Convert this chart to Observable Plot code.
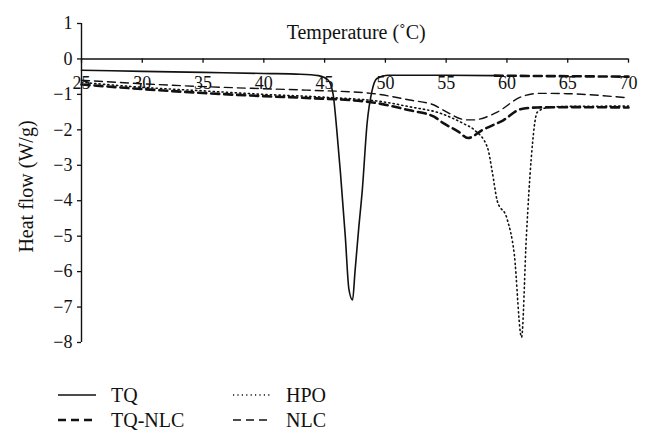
<!DOCTYPE html>
<html>
<head>
<meta charset="utf-8">
<script src="https://cdn.jsdelivr.net/npm/d3@7"></script>
<script src="https://cdn.jsdelivr.net/npm/@observablehq/plot@0.6"></script>
<style>
  body { margin: 0; background: #fff; font-family: "Liberation Serif", serif; }
  #legend { position: relative; height: 75px; font-size: 20px; color: #111; }
  .item { position: absolute; display: flex; align-items: center; height: 26px; }
  .item svg { margin-right: 15px; }
</style>
</head>
<body>
<div id="chart"></div>
<div id="legend"></div>
<script>
// ---- data ----
const xTicks = [25, 30, 35, 40, 45, 50, 55, 60, 65, 70];
const yTicks = [1, 0, -1, -2, -3, -4, -5, -6, -7, -8];

const tqT = [25, 30, 35, 40, 43, 44.5, 45.3, 45.7, 46.0, 46.3, 46.7, 47.0, 47.3, 47.5, 47.8, 48.1, 48.5, 48.9, 49.3, 50.2, 55, 59, 62, 66, 70];
const tqV = [-0.32, -0.35, -0.38, -0.41, -0.43, -0.47, -0.6, -1.0, -2.0, -3.2, -5.0, -6.5, -6.8, -6.0, -4.8, -3.7, -1.8, -0.9, -0.55, -0.46, -0.46, -0.47, -0.48, -0.49, -0.5];
const tqSolidEnd = 59;

const tqnlcT = [25, 30, 35, 40, 43.5, 48.8, 52, 54, 54.8, 56, 56.8, 58, 59.7, 61.1, 62.5, 65, 70];
const tqnlcV = [-0.72, -0.85, -0.96, -1.05, -1.1, -1.22, -1.45, -1.63, -1.82, -2.05, -2.23, -2.0, -1.73, -1.42, -1.37, -1.36, -1.37];

const nlcT = [25, 30, 35, 40, 43.5, 48.8, 52, 54, 54.8, 56.7, 57.2, 59.2, 61.1, 62.7, 65, 70];
const nlcV = [-0.6, -0.7, -0.78, -0.84, -0.88, -0.97, -1.16, -1.3, -1.45, -1.72, -1.72, -1.5, -1.08, -0.97, -0.98, -1.1];

const hpoT = [25, 30, 35, 40, 45, 50, 52, 54.5, 56.4, 57.3, 58.4, 58.8, 59.2, 60.0, 60.6, 61.2, 61.6, 62.0, 62.5, 63.5, 65, 70];
const hpoV = [-0.66, -0.8, -0.9, -1.0, -1.08, -1.22, -1.35, -1.53, -1.82, -2.0, -2.5, -3.2, -4.0, -4.5, -5.5, -7.85, -5.0, -2.8, -1.5, -1.36, -1.34, -1.33];

const legendItems = [
  {label: "TQ", key: "tq"},
  {label: "HPO", key: "hpo"},
  {label: "TQ-NLC", key: "tqnlc"},
  {label: "NLC", key: "nlc"}
];

// ---- build tables ----
const zip = (T, V) => T.map((t, i) => ({t, v: V[i]}));
const tq = zip(tqT, tqV);
const tqnlc = zip(tqnlcT, tqnlcV);
const nlc = zip(nlcT, nlcV);
const hpo = zip(hpoT, hpoV);

const styles = {
  tq: {stroke: "#111", strokeWidth: 1.6},
  tqnlc: {stroke: "#111", strokeWidth: 2.6, strokeDasharray: "8,5"},
  nlc: {stroke: "#111", strokeWidth: 1.4, strokeDasharray: "8,5"},
  hpo: {stroke: "#111", strokeWidth: 1.6, strokeDasharray: "1.2,3.2"}
};

const font = "Liberation Serif";
const chart = Plot.plot({
  width: 650,
  height: 366,
  marginLeft: 81,
  marginRight: 22,
  marginTop: 23,
  marginBottom: 24,
  style: {fontFamily: font, fontSize: "18px", color: "#111", background: "#fff"},
  x: {domain: [25, 70], axis: null},
  y: {domain: [-8, 1], axis: null},
  marks: [
    Plot.axisY(yTicks, {
      tickSize: 4, tickPadding: 5, fontSize: 18,
      label: null, strokeWidth: 1.3
    }),
    Plot.text(["Heat flow (W/g)"], {
      x: 25, y: -3.6, dx: -55, rotate: -90, fontSize: 20, text: d => d
    }),
    Plot.ruleX([25], {strokeWidth: 1.4}),
    Plot.ruleY([0], {strokeWidth: 1.4}),
    Plot.ruleX(xTicks, {x: d => d, y1: 0, y2: -0.12, strokeWidth: 1.3}),
    Plot.text(xTicks, {x: d => d, y: 0, dy: 24, text: d => String(d), fontSize: 18}),
    Plot.text(["Temperature (˚C)"], {x: 47.6, y: 0.73, fontSize: 20, text: d => d}),
    Plot.line(nlc, {x: "t", y: "v", ...styles.nlc, curve: "monotone-x"}),
    Plot.line(hpo, {x: "t", y: "v", ...styles.hpo, curve: "monotone-x"}),
    Plot.line(tqnlc, {x: "t", y: "v", ...styles.tqnlc, curve: "monotone-x"}),
    Plot.line(tq.filter(d => d.t <= tqSolidEnd), {x: "t", y: "v", ...styles.tq, curve: "monotone-x"}),
    Plot.line(tq.filter(d => d.t >= tqSolidEnd), {x: "t", y: "v", ...styles.tqnlc, curve: "monotone-x"})
  ]
});
document.getElementById("chart").appendChild(chart);

// ---- legend ----
const pos = {
  tq: {left: 58, top: 16}, hpo: {left: 233, top: 16},
  tqnlc: {left: 58, top: 41}, nlc: {left: 233, top: 41}
};
const leg = document.getElementById("legend");
for (const it of legendItems) {
  const s = styles[it.key];
  const div = document.createElement("div");
  div.className = "item";
  div.style.left = pos[it.key].left + "px";
  div.style.top = pos[it.key].top + "px";
  div.innerHTML = `<svg width="38" height="10"><line x1="0" x2="38" y1="5" y2="5" stroke="${s.stroke}" stroke-width="${s.strokeWidth}" ${s.strokeDasharray ? `stroke-dasharray="${s.strokeDasharray}"` : ""}/></svg><span>${it.label}</span>`;
  leg.appendChild(div);
}
</script>
</body>
</html>
